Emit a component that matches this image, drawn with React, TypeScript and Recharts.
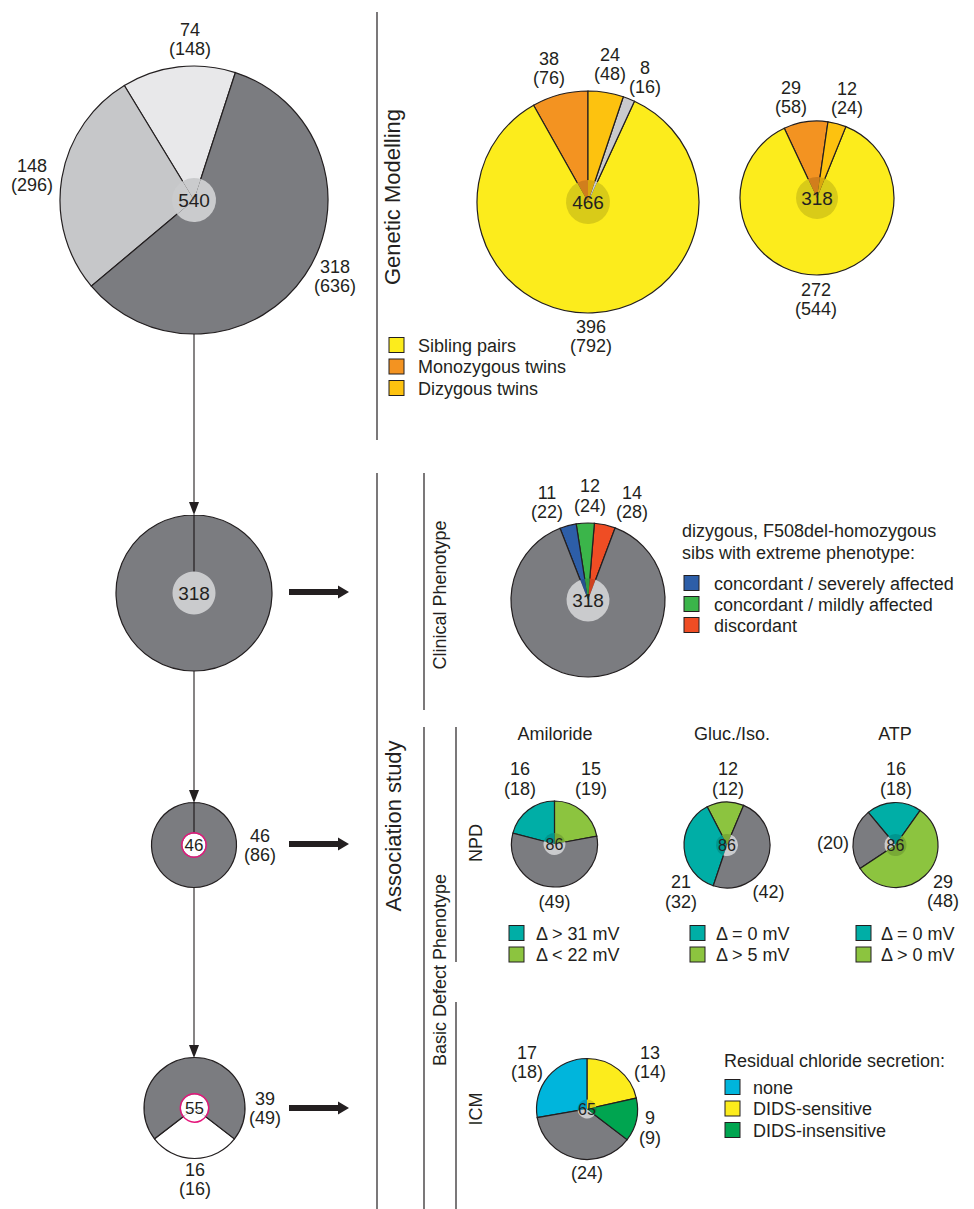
import { PieChart, Pie, Cell } from 'recharts';

const W = 974;
const H = 1209;
const FONT = '"Liberation Sans", Arial, Helvetica, sans-serif';
const INK = '#231f20';

const GRAY = '#7b7c80';
const LIGHT = '#c6c7c9';
const PALE = '#e8e8ea';
const MID = '#c9cacc';
const YELLOW = '#fcec1c';
const ORANGE = '#f39321';
const GOLD = '#fdc20f';
const BLUE = '#2d5ea8';
const GREEN = '#3bb54a';
const RED = '#ef4d24';
const TEAL = '#00aea6';
const LIME = '#8cc43f';
const CYAN = '#00b5dc';
const DGREEN = '#00a550';
const PINK = '#e4157a';

// ---- data (pairs, and individuals in brackets) ----
// all families in the cohort
const allPairs = [74, 148, 318];
const allPersons = [148, 296, 636];

// genetic modelling: monozygous, sibling pairs, other, dizygous
const gmPairs = [38, 396, 8, 24];
const gmPersons = [76, 792, 16, 48];

// dizygous F508del-homozygous subset: monozygous, sibling pairs, dizygous
const dzPairs = [29, 272, 12];
const dzPersons = [58, 544, 24];

// clinical phenotype: discordant, mildly, severely, rest
const clinPairs = [14, 12, 11, null];
const clinPersons = [28, 24, 22, 562];

// flow pies on the left
const flow318 = [318];
const npdPairs = [46];
const npdPersons = [86];
const icmFlowPairs = [16, 39];
const icmFlowPersons = [16, 49];

// NPD
const amiPairs = [15, 16, null];
const amiPersons = [19, 18, 49];
const glucPairs = [12, 21, null];
const glucPersons = [12, 32, 42];
const atpPairs = [16, null, 29];
const atpPersons = [18, 20, 48];

// ICM: DIDS-sensitive, none, rest, DIDS-insensitive
const icmPairs = [13, 17, null, 9];
const icmPersons = [14, 18, 24, 9];

const grays = [GRAY, LIGHT, PALE, MID, '#ffffff'];
function innerFill(c: string) {
  if (grays.includes(c)) return '#cacbcd';
  const n = parseInt(c.slice(1), 16);
  const f = (v: number) => Math.round(v * 0.86).toString(16).padStart(2, '0');
  return '#' + f((n >> 16) & 255) + f((n >> 8) & 255) + f(n & 255);
}

type Spec = {
  id: string;
  cx: number;
  cy: number;
  r: number;
  innerR: number;
  start: number;
  values: number[];
  colors: string[];
  top: (number | null)[];
  bottom: (number | null)[];
  offsets: ([number, number] | null)[];
  total: string;
  centerSize: number;
  ring?: boolean;
};

const specs: Spec[] = [
  {
    id: 'all', cx: 194, cy: 200, r: 134, innerR: 22, start: 72,
    values: allPersons, colors: [PALE, LIGHT, GRAY],
    top: allPairs, bottom: allPersons,
    offsets: [[-4, -161], [-162, -25], [141, 76]],
    total: '540', centerSize: 19,
  },
  {
    id: 'gm', cx: 588, cy: 202, r: 111, innerR: 22, start: 90,
    values: gmPersons, colors: [ORANGE, YELLOW, MID, GOLD],
    top: gmPairs, bottom: gmPersons,
    offsets: [[-39, -134], [3, 134], [57, -125], [22, -138]],
    total: '466', centerSize: 19,
  },
  {
    id: 'dz', cx: 817, cy: 198, r: 77, innerR: 21, start: 81.8,
    values: dzPersons, colors: [ORANGE, YELLOW, GOLD],
    top: dzPairs, bottom: dzPersons,
    offsets: [[-26, -101], [-1, 101], [30, -100]],
    total: '318', centerSize: 19,
  },
  {
    id: 'clin', cx: 588, cy: 600, r: 77, innerR: 21.5, start: 69.4,
    values: clinPersons, colors: [RED, GREEN, BLUE, GRAY],
    top: clinPairs, bottom: clinPersons,
    offsets: [[44, -98], [2, -104.5], [-41, -98], null],
    total: '318', centerSize: 19,
  },
  {
    id: 'f318', cx: 194, cy: 593, r: 78, innerR: 21.5, start: 90,
    values: flow318, colors: [GRAY],
    top: [null], bottom: [null], offsets: [null],
    total: '318', centerSize: 19,
  },
  {
    id: 'f46', cx: 194, cy: 845, r: 42.5, innerR: 11.5, start: 90,
    values: npdPairs, colors: [GRAY],
    top: npdPairs, bottom: npdPersons, offsets: [[66, 0]],
    total: '46', centerSize: 17, ring: true,
  },
  {
    id: 'f55', cx: 194.5, cy: 1108, r: 50.5, innerR: 13.5, start: 217.6,
    values: icmFlowPairs, colors: ['#ffffff', GRAY],
    top: icmFlowPairs, bottom: icmFlowPersons,
    offsets: [[0.5, 71], [70.5, 0]],
    total: '55', centerSize: 17, ring: true,
  },
  {
    id: 'ami', cx: 554.5, cy: 844, r: 43, innerR: 11, start: 10.5,
    values: amiPersons, colors: [LIME, TEAL, GRAY],
    top: amiPairs, bottom: amiPersons,
    offsets: [[36.5, -65.5], [-34.5, -65.5], [0, 57.5]],
    total: '86', centerSize: 16,
  },
  {
    id: 'gluc', cx: 727, cy: 845, r: 43, innerR: 11, start: 67.2,
    values: glucPersons, colors: [LIME, TEAL, GRAY],
    top: glucPairs, bottom: glucPersons,
    offsets: [[1, -66.5], [-46, 46.5], [41.5, 46]],
    total: '86', centerSize: 16,
  },
  {
    id: 'atp', cx: 895.5, cy: 845, r: 42.5, innerR: 11, start: 54.5,
    values: atpPersons, colors: [TEAL, GRAY, LIME],
    top: atpPairs, bottom: atpPersons,
    offsets: [[0.5, -66.5], [-62.5, -3], [47.5, 46]],
    total: '86', centerSize: 16,
  },
  {
    id: 'icm', cx: 587, cy: 1109, r: 50.5, innerR: 9.5, start: 12.5,
    values: icmPersons, colors: [YELLOW, CYAN, GRAY, DGREEN],
    top: icmPairs, bottom: icmPersons,
    offsets: [[63, -47], [-60, -47], [0, 63], [63, 18.5]],
    total: '65', centerSize: 16,
  },
];

const LABEL_SIZE = 18;
const LINE_GAP = 9.8;

function sliceLabel(spec: Spec) {
  return (p: any) => {
    const off = spec.offsets[p.index];
    if (!off) return null;
    const x = p.cx + off[0];
    const y = p.cy + off[1];
    const t = spec.top[p.index];
    const b = spec.bottom[p.index];
    const common = { textAnchor: 'middle' as const, fontFamily: FONT, fontSize: LABEL_SIZE, fill: INK };
    if (t == null) {
      return (
        <text x={x} y={y + 6.5} {...common}>
          ({b})
        </text>
      );
    }
    return (
      <text {...common}>
        <tspan x={x} y={y - LINE_GAP + 6.5}>{t}</tspan>
        <tspan x={x} y={y + LINE_GAP + 6.5}>({b})</tspan>
      </text>
    );
  };
}

function centerLabel(spec: Spec) {
  return (p: any) => {
    if (p.index !== 0) return null;
    return (
      <text
        x={p.cx}
        y={p.cy + spec.centerSize * 0.36}
        textAnchor="middle"
        fontFamily={FONT}
        fontSize={spec.centerSize}
        fill={INK}
      >
        {spec.total}
      </text>
    );
  };
}

function rows(values: number[]) {
  return values.map((v, i) => ({ name: 's' + i, value: v }));
}

function Arrow({ x, y1, y2 }: { x: number; y1: number; y2: number }) {
  return (
    <g>
      <line x1={x} y1={y1} x2={x} y2={y2 - 10} stroke={INK} strokeWidth={1.1} />
      <polygon points={`${x},${y2} ${x - 5},${y2 - 13} ${x + 5},${y2 - 13}`} fill={INK} />
    </g>
  );
}

function FatArrow({ y }: { y: number }) {
  return (
    <g>
      <rect x={289} y={y - 3} width={50} height={6} fill={INK} />
      <polygon points={`${338},${y - 6.5} ${349},${y} ${338},${y + 6.5}`} fill={INK} />
    </g>
  );
}

function VText({ x, y, size, children }: { x: number; y: number; size: number; children: string }) {
  return (
    <text
      transform={`translate(${x},${y}) rotate(-90)`}
      textAnchor="middle"
      fontFamily={FONT}
      fontSize={size}
      fill={INK}
    >
      {children}
    </text>
  );
}

function Legend({ x, y, gap, items, colors, textDx }: {
  x: number; y: number; gap: number; items: string[]; colors: string[]; textDx: number;
}) {
  return (
    <g>
      {items.map((t, i) => (
        <g key={t + i}>
          <rect x={x} y={y + i * gap - 7.5} width={15} height={15} fill={colors[i]} stroke={INK} strokeWidth={1} />
          <text x={x + textDx} y={y + i * gap + 6.5} fontFamily={FONT} fontSize={18} fill={INK}>
            {t}
          </text>
        </g>
      ))}
    </g>
  );
}

const gmLegend = ['Sibling pairs', 'Monozygous twins', 'Dizygous twins'];
const clinLegend = ['concordant / severely affected', 'concordant / mildly affected', 'discordant'];
const amiLegend = ['\u0394 > 31 mV', '\u0394 < 22 mV'];
const glucLegend = ['\u0394 = 0 mV', '\u0394 > 5 mV'];
const atpLegend = ['\u0394 = 0 mV', '\u0394 > 0 mV'];
const icmLegend = ['none', 'DIDS-sensitive', 'DIDS-insensitive'];

export default function App() {
  return (
    <div
      style={{
        position: 'absolute',
        left: 0,
        top: 0,
        width: W,
        height: H,
        background: '#fff',
        fontFamily: FONT,
      }}
    >
      <PieChart width={W} height={H} margin={{ top: 0, right: 0, bottom: 0, left: 0 }}>
        {specs.flatMap((s) => {
          const out = [
            <Pie
              key={s.id + '-outer'}
              data={rows(s.values)}
              dataKey="value"
              cx={s.cx}
              cy={s.cy}
              outerRadius={s.r}
              innerRadius={0}
              startAngle={s.start}
              endAngle={s.start + 360}
              stroke={INK}
              strokeWidth={1.2}
              isAnimationActive={false}
              label={sliceLabel(s)}
              labelLine={false}
            >
              {s.values.map((_, i) => (
                <Cell key={i} fill={s.colors[i]} />
              ))}
            </Pie>,
            <Pie
              key={s.id + '-inner'}
              data={rows(s.values)}
              dataKey="value"
              cx={s.cx}
              cy={s.cy}
              outerRadius={s.innerR}
              innerRadius={0}
              startAngle={s.start}
              endAngle={s.start + 360}
              stroke="none"
              isAnimationActive={false}
              label={centerLabel(s)}
              labelLine={false}
            >
              {s.values.map((_, i) => (
                <Cell key={i} fill={s.ring ? '#ffffff' : innerFill(s.colors[i])} />
              ))}
            </Pie>,
          ];
          if (s.ring) {
            out.push(
              <Pie
                key={s.id + '-ring'}
                data={rows(s.values)}
                dataKey="value"
                cx={s.cx}
                cy={s.cy}
                outerRadius={s.innerR + 1.4}
                innerRadius={s.innerR}
                startAngle={s.start}
                endAngle={s.start + 360}
                stroke="none"
                fill={PINK}
                isAnimationActive={false}
              >
                {s.values.map((_, i) => (
                  <Cell key={i} fill={PINK} />
                ))}
              </Pie>
            );
          }
          return out;
        })}
      </PieChart>

      <svg
        width={W}
        height={H}
        style={{ position: 'absolute', left: 0, top: 0, pointerEvents: 'none' }}
      >
        {/* section dividers */}
        <line x1={377} y1={12} x2={377} y2={440} stroke={INK} strokeWidth={1.2} />
        <line x1={377} y1={473} x2={377} y2={H} stroke={INK} strokeWidth={1.2} />
        <line x1={424} y1={473} x2={424} y2={710} stroke={INK} strokeWidth={1.2} />
        <line x1={424} y1={727} x2={424} y2={H} stroke={INK} strokeWidth={1.2} />
        <line x1={456} y1={727} x2={456} y2={962} stroke={INK} strokeWidth={1.2} />
        <line x1={456} y1={1002} x2={456} y2={H} stroke={INK} strokeWidth={1.2} />

        <VText x={400} y={197} size={22}>Genetic Modelling</VText>
        <VText x={401} y={826} size={22}>Association study</VText>
        <VText x={446} y={595} size={18}>Clinical Phenotype</VText>
        <VText x={446} y={970} size={18}>Basic Defect Phenotype</VText>
        <VText x={482} y={843} size={18}>NPD</VText>
        <VText x={482} y={1109} size={18}>ICM</VText>

        {/* flow arrows */}
        <Arrow x={194} y1={334} y2={515} />
        <Arrow x={194} y1={671} y2={803} />
        <Arrow x={194} y1={887} y2={1058} />
        <FatArrow y={592} />
        <FatArrow y={844} />
        <FatArrow y={1108} />

        {/* NPD titles */}
        <text x={555} y={739.5} textAnchor="middle" fontFamily={FONT} fontSize={18} fill={INK}>Amiloride</text>
        <text x={732} y={739.5} textAnchor="middle" fontFamily={FONT} fontSize={18} fill={INK}>Gluc./Iso.</text>
        <text x={895} y={739.5} textAnchor="middle" fontFamily={FONT} fontSize={18} fill={INK}>ATP</text>

        {/* legends */}
        <Legend x={389} y={345} gap={21.5} items={gmLegend} colors={[YELLOW, ORANGE, GOLD]} textDx={29} />

        <text x={682} y={536.5} fontFamily={FONT} fontSize={18} fill={INK}>dizygous, F508del-homozygous</text>
        <text x={682} y={558.5} fontFamily={FONT} fontSize={18} fill={INK}>sibs with extreme phenotype:</text>
        <Legend x={684} y={583} gap={21} items={clinLegend} colors={[BLUE, GREEN, RED]} textDx={30} />

        <Legend x={509} y={933} gap={21.5} items={amiLegend} colors={[TEAL, LIME]} textDx={27} />
        <Legend x={690} y={933} gap={21.5} items={glucLegend} colors={[TEAL, LIME]} textDx={26} />
        <Legend x={856} y={933} gap={21.5} items={atpLegend} colors={[TEAL, LIME]} textDx={25} />

        <text x={724} y={1066.5} fontFamily={FONT} fontSize={18} fill={INK}>Residual chloride secretion:</text>
        <Legend x={725} y={1087} gap={21.5} items={icmLegend} colors={[CYAN, YELLOW, DGREEN]} textDx={28} />
      </svg>
    </div>
  );
}
